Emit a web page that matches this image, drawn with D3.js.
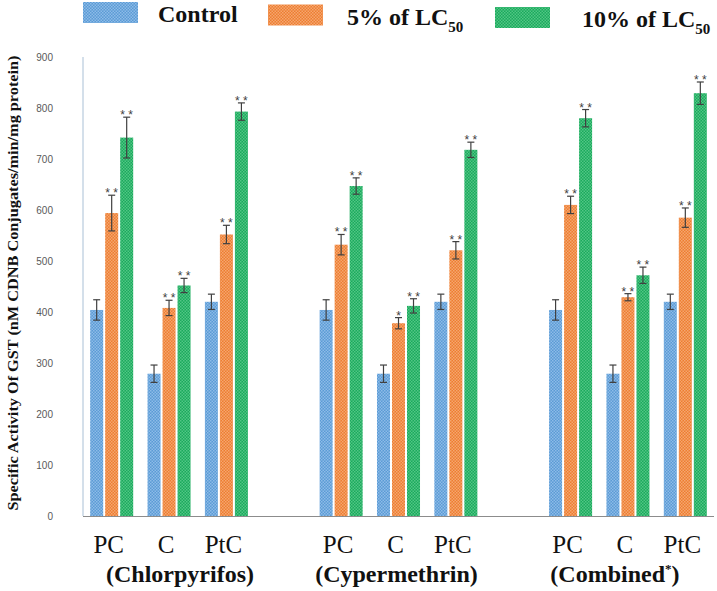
<!DOCTYPE html>
<html>
<head>
<meta charset="utf-8">
<script src="https://cdn.jsdelivr.net/npm/d3@7"></script>
<style>
  body { margin: 0; background: #fff; }
  svg { display: block; }
  .tick-lab { font-family: "Liberation Sans", Arial, sans-serif; font-size: 10px; fill: #595959; }
  .serif { font-family: "Liberation Serif", "Times New Roman", Times, serif; fill: #111; }
  .star { font-family: "Liberation Sans", Arial, sans-serif; font-size: 12px; fill: #404040; }
</style>
</head>
<body>
<div id="chart"></div>
<script>
// data
var pesticides = ["Chlorpyrifos", "Cypermethrin", "Combined"];
var tissues = ["PC", "C", "PtC"];
var series = ["Control", "5% of LC50", "10% of LC50"];

// mean values, [pesticide][tissue][series]
var means = [
  [[404, 594, 742], [279, 408, 452], [420, 552, 793]],
  [[404, 532, 647], [279, 378, 412], [420, 521, 718]],
  [[404, 610, 780], [279, 429, 472], [420, 585, 829]]
];
var errs = [
  [[20, 35, 40], [17, 15, 14], [15, 18, 17]],
  [[20, 20, 16], [17, 11, 14], [15, 17, 15]],
  [[20, 17, 17], [17, 7, 16], [15, 19, 22]]
];
var stars = [
  [["", "* *", "* *"], ["", "* *", "* *"], ["", "* *", "* *"]],
  [["", "* *", "* *"], ["", "*", "* *"], ["", "* *", "* *"]],
  [["", "* *", "* *"], ["", "* *", "* *"], ["", "* *", "* *"]]
];
var yTicks = [0, 100, 200, 300, 400, 500, 600, 700, 800, 900];

var colors = ["#5b9bd5", "#ed7d31", "#1aaa5c"];
var lights = ["#8dbbe8", "#f5a66f", "#52c585"];

var W = 717, H = 591;
var svg = d3.select("#chart").append("svg").attr("width", W).attr("height", H);

// checker textures
var defs = svg.append("defs");
colors.forEach(function (c, i) {
  var p = defs.append("pattern").attr("id", "pat" + i)
    .attr("width", 3).attr("height", 3).attr("patternUnits", "userSpaceOnUse");
  p.append("rect").attr("width", 3).attr("height", 3).attr("fill", c);
  p.append("rect").attr("width", 1.5).attr("height", 1.5).attr("fill", lights[i]);
  p.append("rect").attr("x", 1.5).attr("y", 1.5).attr("width", 1.5).attr("height", 1.5).attr("fill", lights[i]);
});

// slots: 3 tissues per pesticide, empty slot between pesticides
var slots = [];
pesticides.forEach(function (p, pi) {
  tissues.forEach(function (t) { slots.push(p + "|" + t); });
  if (pi < pesticides.length - 1) slots.push("gap" + pi);
});

var x0 = d3.scaleBand().domain(slots).range([83, 714]).paddingInner(0.25).paddingOuter(0.125);
var x1 = d3.scaleBand().domain(series).range([0, x0.bandwidth()]).paddingInner(0.133);
var y = d3.scaleLinear().domain([0, 900]).range([516, 57]);

// y axis
svg.append("line").attr("x1", 83).attr("x2", 83).attr("y1", y(900)).attr("y2", y(0))
  .attr("stroke", "#a9c0d6").attr("stroke-width", 1);
svg.append("g").selectAll("text").data(yTicks).enter().append("text")
  .attr("class", "tick-lab")
  .attr("x", 53).attr("y", function (d) { return y(d) + 3.5; })
  .attr("text-anchor", "end")
  .text(function (d) { return d; });

// bars
var rows = [];
pesticides.forEach(function (p, pi) {
  tissues.forEach(function (t, ti) {
    series.forEach(function (s, si) {
      rows.push({ slot: p + "|" + t, s: s, si: si, v: means[pi][ti][si], e: errs[pi][ti][si], star: stars[pi][ti][si] });
    });
  });
});

var bars = svg.append("g");
bars.selectAll("rect").data(rows).enter().append("rect")
  .attr("x", function (d) { return x0(d.slot) + x1(d.s); })
  .attr("y", function (d) { return y(d.v); })
  .attr("width", x1.bandwidth())
  .attr("height", function (d) { return y(0) - y(d.v); })
  .attr("fill", function (d) { return "url(#pat" + d.si + ")"; });

// x axis line
svg.append("line").attr("x1", 83).attr("x2", 714).attr("y1", y(0) + 0.5).attr("y2", y(0) + 0.5)
  .attr("stroke", "#8c8c8c").attr("stroke-width", 1);

// error bars
var eb = svg.append("g").attr("stroke", "#404040").attr("stroke-width", 1.2);
rows.forEach(function (d) {
  var cx = x0(d.slot) + x1(d.s) + x1.bandwidth() / 2;
  eb.append("line").attr("x1", cx).attr("x2", cx).attr("y1", y(d.v + d.e)).attr("y2", y(d.v - d.e));
  eb.append("line").attr("x1", cx - 3.5).attr("x2", cx + 3.5).attr("y1", y(d.v + d.e)).attr("y2", y(d.v + d.e));
  eb.append("line").attr("x1", cx - 3.5).attr("x2", cx + 3.5).attr("y1", y(d.v - d.e)).attr("y2", y(d.v - d.e));
});

// significance stars
svg.append("g").selectAll("text").data(rows.filter(function (d) { return d.star; })).enter().append("text")
  .attr("class", "star")
  .attr("x", function (d) { return x0(d.slot) + x1(d.s) + x1.bandwidth() / 2; })
  .attr("y", function (d) { return y(d.v + d.e) + 2; })
  .attr("text-anchor", "middle")
  .text(function (d) { return d.star; });

// tissue labels
pesticides.forEach(function (p) {
  tissues.forEach(function (t) {
    svg.append("text").attr("class", "serif")
      .attr("x", x0(p + "|" + t) + x0.bandwidth() / 2 - 3)
      .attr("y", 553)
      .attr("text-anchor", "middle")
      .style("font-size", "25px")
      .text(t);
  });
});

// pesticide labels
var pestDx = [11, -2, -13];
pesticides.forEach(function (p, pi) {
  var t = svg.append("text").attr("class", "serif")
    .attr("x", x0(p + "|C") + x0.bandwidth() / 2 + pestDx[pi])
    .attr("y", 582)
    .attr("text-anchor", "middle")
    .style("font-weight", "bold")
    .style("font-size", "24px");
  t.append("tspan").text("(" + p);
  if (p === "Combined") {
    t.append("tspan").attr("dy", -9).style("font-size", "13px").text("*");
    t.append("tspan").attr("dy", 9).text(")");
  } else {
    t.append("tspan").text(")");
  }
});

// y axis title
svg.append("text").attr("class", "serif")
  .attr("transform", "translate(18,283) rotate(-90)")
  .attr("text-anchor", "middle")
  .style("font-weight", "bold")
  .style("font-size", "15px")
  .attr("textLength", 455).attr("lengthAdjust", "spacingAndGlyphs")
  .text("Specific Activity Of GST (nM CDNB Conjugates/min/mg protein)");

// legend
var legX = [83, 268, 495];
var legTextX = [158, 347, 582];
var legY = [2, 4.5, 7];
series.forEach(function (s, i) {
  svg.append("rect").attr("x", legX[i]).attr("y", legY[i])
    .attr("width", 55).attr("height", 21).attr("fill", "url(#pat" + i + ")");
  var t = svg.append("text").attr("class", "serif")
    .attr("x", legTextX[i]).attr("y", legY[i] + 20)
    .style("font-weight", "bold")
    .style("font-size", "24px");
  if (s.indexOf("LC50") >= 0) {
    t.append("tspan").text(s.replace("LC50", "LC"));
    t.append("tspan").attr("dy", 7).style("font-size", "15px").text("50");
  } else {
    t.text(s);
  }
});
</script>
</body>
</html>
